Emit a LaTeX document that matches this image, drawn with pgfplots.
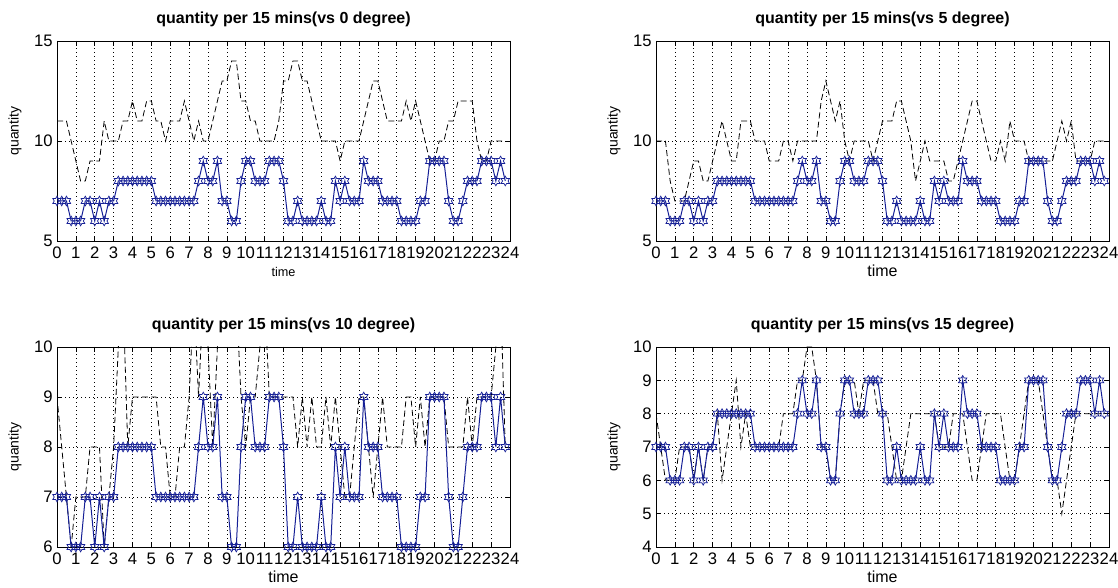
\documentclass[border=0pt]{standalone}
\usepackage{fontspec}
\setmainfont{Liberation Sans}
\usepackage{pgfplots}
\pgfplotsset{compat=1.18}
\usepackage{pgfplotstable}

\definecolor{mblue}{RGB}{22,32,150}

\pgfdeclareplotmark{hexagram}{%
  \pgfpathmoveto{\pgfpointpolar{90}{\pgfplotmarksize}}%
  \pgfpathlineto{\pgfpointpolar{120}{0.577\pgfplotmarksize}}%
  \pgfpathlineto{\pgfpointpolar{150}{\pgfplotmarksize}}%
  \pgfpathlineto{\pgfpointpolar{180}{0.577\pgfplotmarksize}}%
  \pgfpathlineto{\pgfpointpolar{210}{\pgfplotmarksize}}%
  \pgfpathlineto{\pgfpointpolar{240}{0.577\pgfplotmarksize}}%
  \pgfpathlineto{\pgfpointpolar{270}{\pgfplotmarksize}}%
  \pgfpathlineto{\pgfpointpolar{300}{0.577\pgfplotmarksize}}%
  \pgfpathlineto{\pgfpointpolar{330}{\pgfplotmarksize}}%
  \pgfpathlineto{\pgfpointpolar{0}{0.577\pgfplotmarksize}}%
  \pgfpathlineto{\pgfpointpolar{30}{\pgfplotmarksize}}%
  \pgfpathlineto{\pgfpointpolar{60}{0.577\pgfplotmarksize}}%
  \pgfpathclose
  \pgfusepathqstroke
}

\pgfplotstableread{
t q
0 7
0.25 7
0.5 7
0.75 6
1 6
1.25 6
1.5 7
1.75 7
2 6
2.25 7
2.5 6
2.75 7
3 7
3.25 8
3.5 8
3.75 8
4 8
4.25 8
4.5 8
4.75 8
5 8
5.25 7
5.5 7
5.75 7
6 7
6.25 7
6.5 7
6.75 7
7 7
7.25 7
7.5 8
7.75 9
8 8
8.25 8
8.5 9
8.75 7
9 7
9.25 6
9.5 6
9.75 8
10 9
10.25 9
10.5 8
10.75 8
11 8
11.25 9
11.5 9
11.75 9
12 8
12.25 6
12.5 6
12.75 7
13 6
13.25 6
13.5 6
13.75 6
14 7
14.25 6
14.5 6
14.75 8
15 7
15.25 8
15.5 7
15.75 7
16 7
16.25 9
16.5 8
16.75 8
17 8
17.25 7
17.5 7
17.75 7
18 7
18.25 6
18.5 6
18.75 6
19 6
19.25 7
19.5 7
19.75 9
20 9
20.25 9
20.5 9
20.75 7
21 6
21.25 6
21.5 7
21.75 8
22 8
22.25 8
22.5 9
22.75 9
23 9
23.25 8
23.5 9
23.75 8
}\qtab

\pgfplotstableread{
t d0 d5 d10 d15
0 11 10 9 8
0.25 11 10 8 7
0.5 11 10 7 6
0.75 10 8 6 6
1 9 7 7 6
1.25 8 7 7 7
1.5 8 7 7 7
1.75 9 8 8 7
2 9 9 8 6
2.25 9 9 8 7
2.5 11 8 6 6
2.75 10 8 7 7
3 10 9 8 7
3.25 10 10 10 8
3.5 11 11 11 6
3.75 11 10 8 7
4 12 9 9 8
4.25 11 9 9 9
4.5 11 11 9 7
4.75 12 11 9 8
5 12 11 9 7
5.25 11 10 9 7
5.5 11 10 8 7
5.75 10 10 8 7
6 11 9 7 7
6.25 11 9 7 7
6.5 11 9 8 7
6.75 12 10 8 8
7 11 10 9 8
7.25 10 9 11 8
7.5 11 10 9 9
7.75 10 10 11 9
8 10 10 10 10
8.25 11 10 8 10
8.5 12 10 10 9
8.75 13 12 11 7
9 13 13 11 7
9.25 14 12 10 6
9.5 14 11 11 6
9.75 12 12 9 8
10 12 10 8 9
10.25 11 9 9 9
10.5 11 10 9 9
10.75 10 10 10 8
11 10 10 11 9
11.25 10 10 9 9
11.5 10 9 9 9
11.75 11 10 9 8
12 13 11 9 8
12.25 13 11 9 8
12.5 14 11 9 7
12.75 14 12 8 6
13 13 12 9 6
13.25 13 11 8 7
13.5 12 10 9 8
13.75 11 8 8 8
14 10 9 8 8
14.25 10 10 9 8
14.5 10 9 8 8
14.75 10 9 9 8
15 9 9 8 7
15.25 10 9 7 7
15.5 10 8 7 7
15.75 10 8 8 8
16 10 9 9 8
16.25 11 10 9 8
16.5 12 11 8 7
16.75 13 12 7 6
17 13 12 8 6
17.25 12 11 9 7
17.5 11 10 8 8
17.75 11 9 8 8
18 11 9 8 8
18.25 11 10 8 8
18.5 12 9 9 7
18.75 11 11 9 6
19 12 10 8 6
19.25 11 10 9 7
19.5 10 10 8 8
19.75 9 9 9 9
20 9 9 9 9
20.25 10 9 9 9
20.5 10 9 9 8
20.75 11 9 8 7
21 11 9 8 6
21.25 12 10 8 6
21.5 12 11 8 5
21.75 12 10 9 6
22 12 11 8 7
22.25 10 9 9 8
22.5 9 9 9 8
22.75 9 9 9 8
23 10 9 9 8
23.25 10 10 10 8
23.5 10 10 11 8
23.75 10 10 8 8
}\dtab

\pgfplotsset{
  mat/.style={
    scale only axis, width=339.75pt, height=150pt,
    xmin=0, xmax=24, xtick={0,1,...,24},
    grid=major,
    major grid style={black, line width=0.45pt, dash pattern=on 0.6pt off 2.4pt},
    axis line style={black, line width=0.6pt},
    every tick/.style={black, line width=0.5pt},
    major tick length=3.5pt,
    tick align=inside, tick pos=both,
    xticklabel pos=lower, yticklabel pos=left,
    /pgf/number format/assume math mode=true,
    xticklabel style={font=\fontsize{12.5}{12}\selectfont, anchor=base, inner sep=0pt, yshift=-13.5pt},
    yticklabel style={font=\fontsize{12.5}{12}\selectfont, anchor=east, inner sep=0pt, xshift=-3pt},
    xlabel=time, ylabel=quantity,
    xlabel style={font=\fontsize{12}{12}\selectfont, at={(axis description cs:0.5,0)}, anchor=base, inner sep=0pt, yshift=-27pt},
    ylabel style={font=\fontsize{10.5}{12}\selectfont, at={(axis description cs:0,0.5)}, anchor=center, inner sep=0pt, yshift=31.5pt},
    title style={font=\bfseries\fontsize{12}{14}\selectfont, at={(axis description cs:0.5,1)}, anchor=base, inner sep=0pt, yshift=6.75pt},
  },
  dash/.style={black, line width=0.6pt, dash pattern=on 4.5pt off 2.5pt, mark=none},
  qline/.style={mblue, line width=0.75pt, mark=hexagram, mark size=3.6pt, mark options={solid, line width=0.55pt}},
}

\begin{document}
\begin{tikzpicture}
\useasboundingbox (0,0) rectangle (838.5pt,441pt);

\begin{axis}[mat, at={(42.75pt,260.25pt)}, anchor=south west,
  ymin=5, ymax=15, ytick={5,10,15},
  title={quantity per 15 mins(vs 0 degree)},
  xlabel style={font=\fontsize{9.5}{10}\selectfont},
  ylabel style={xshift=7.5pt}]
\addplot[dash] table[x=t,y=d0]{\dtab};
\addplot[qline] table[x=t,y=q]{\qtab};
\end{axis}

\begin{axis}[mat, at={(492pt,260.25pt)}, anchor=south west,
  ymin=5, ymax=15, ytick={5,10,15},
  title={quantity per 15 mins(vs 5 degree)},
  ylabel style={xshift=7.5pt}]
\addplot[dash] table[x=t,y=d5]{\dtab};
\addplot[qline] table[x=t,y=q]{\qtab};
\end{axis}

\begin{axis}[mat, at={(42.75pt,30.75pt)}, anchor=south west,
  ymin=6, ymax=10, ytick={6,7,8,9,10},
  title={quantity per 15 mins(vs 10 degree)}]
\addplot[dash] table[x=t,y=d10]{\dtab};
\addplot[qline] table[x=t,y=q]{\qtab};
\end{axis}

\begin{axis}[mat, at={(492pt,30.75pt)}, anchor=south west,
  ymin=4, ymax=10, ytick={4,5,6,7,8,9,10},
  title={quantity per 15 mins(vs 15 degree)}]
\addplot[dash] table[x=t,y=d15]{\dtab};
\addplot[qline] table[x=t,y=q]{\qtab};
\end{axis}
\end{tikzpicture}
\end{document}
